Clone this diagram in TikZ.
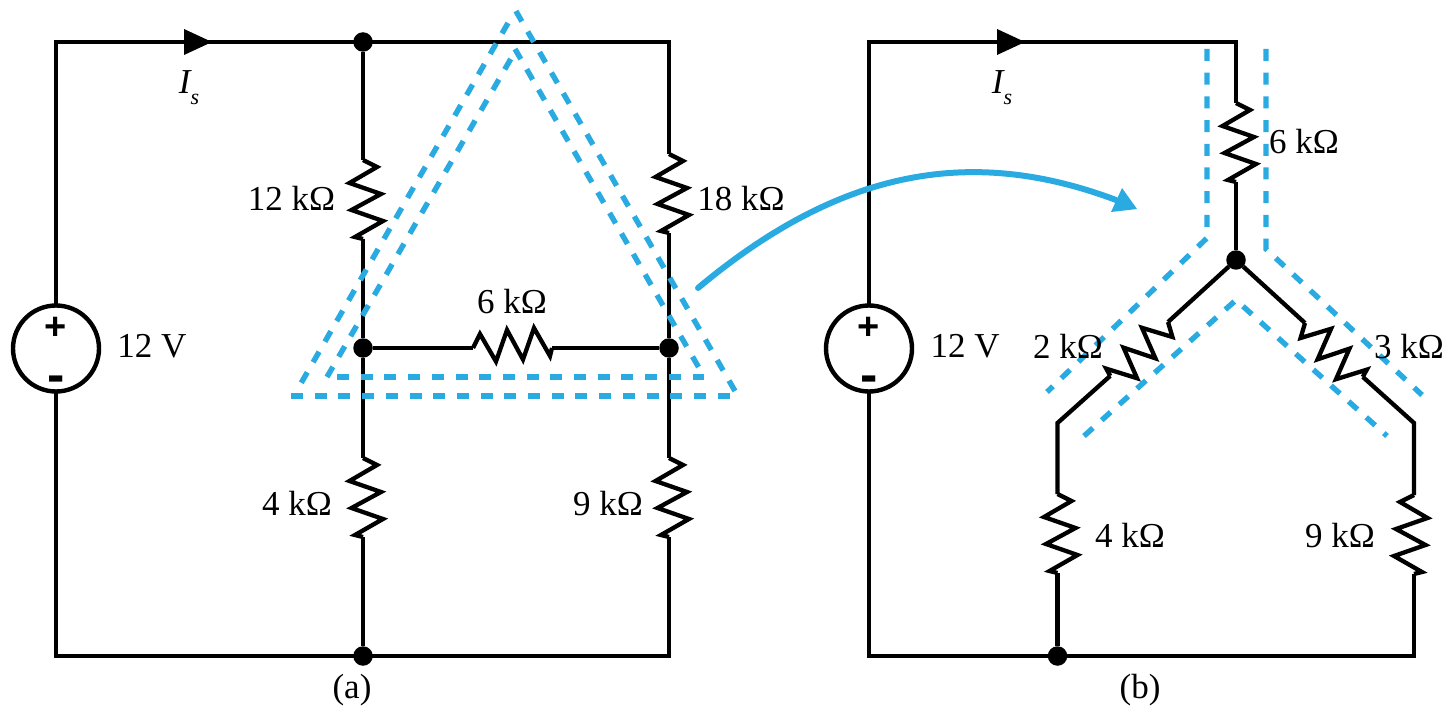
\documentclass[tikz,border=0pt]{standalone}
\usepackage{fontspec}
\setmainfont{Liberation Serif}
\newfontfamily\signfont{Liberation Sans}[Scale=1.0]
\definecolor{cblue}{HTML}{29ABE2}
\tikzset{
  wire/.style={draw=black,line width=4.3pt,line join=miter,line cap=butt},
  dotnode/.style={circle,fill=black,draw=none,minimum size=19.5pt,inner sep=0pt,outer sep=0pt},
  srcnode/.style={circle,draw=black,line width=4.4pt,minimum size=86pt,inner sep=0pt,outer sep=0pt},
  lab/.style={font=\fontsize{35}{38}\selectfont,anchor=base,inner sep=0pt,text=black},
  signlab/.style={font=\signfont\bfseries\fontsize{38}{38}\selectfont,anchor=center,inner sep=0pt,text=black},
  minuslab/.style={font=\signfont\bfseries\fontsize{52}{52}\selectfont,anchor=center,inner sep=0pt,text=black},
  dashblue/.style={draw=cblue,line width=5.4pt,dash pattern=on 12pt off 11.7pt,line cap=butt,line join=miter},
  res/.pic={
    \coordinate (-a) at (0,0);
    \coordinate (-b) at (0,79);
    \draw[wire,miter limit=6] (0,0) -- (14,7) -- (-13.5,23) -- (18,34) -- (-11.5,50) -- (20,61) -- (-8,77) -- (0,79);
  },
  flowtip/.pic={
    \fill[black] (-14,-13) -- (14,0) -- (-14,13) -- cycle;
  },
}
\newcommand{\Isub}{{\itshape I}\raisebox{-11pt}{\fontsize{22}{22}\selectfont\itshape s}}
\begin{document}
\begin{tikzpicture}[x=1pt,y=-1pt]
\useasboundingbox (0,0) rectangle (1453,711);
% part (a) corners
\coordinate (atl) at (56,42);
\coordinate (atr) at (669,42);
\coordinate (abl) at (56,656);
\coordinate (abr) at (669,656);
\node[srcnode] (srcA) at (56,348.5) {};
\node[dotnode] (atop) at (363,42) {};
\node[dotnode] (amidl) at (363,348) {};
\node[dotnode] (amidr) at (669,348) {};
\node[dotnode] (abot) at (363,656) {};
\pic (r12) at (363,160) {res};
\pic (r18) at (669,154) {res};
\pic (r4a) at (363,458) {res};
\pic (r9a) at (669,458) {res};
\pic[rotate=90] (r6a) at (473,348) {res};
\draw[wire] (srcA.north) -- (atl) -- (atr) -- (r18-a);
\draw[wire] (r18-b) -- (amidr) -- (r9a-a);
\draw[wire] (r9a-b) -- (abr) -- (abl) -- (srcA.south);
\draw[wire] (atop) -- (r12-a);
\draw[wire] (r12-b) -- (amidl) -- (r4a-a);
\draw[wire] (r4a-b) -- (abot);
\draw[wire] (amidl) -- (r6a-a);
\draw[wire] (r6a-b) -- (amidr);
\pic at (198,42) {flowtip};
% part (b)
\coordinate (btl) at (869,42);
\coordinate (btr) at (1236,42);
\coordinate (bbl) at (869,656);
\coordinate (bbr) at (1414,656);
\coordinate (bkl) at (1057.5,423);
\coordinate (bkr) at (1414,423);
\node[srcnode] (srcB) at (869,348.5) {};
\node[dotnode] (bjun) at (1236,260) {};
\node[dotnode] (bbot) at (1057.5,656) {};
\pic (r6b) at (1236,103) {res};
\pic[rotate=-47] (r2) at (1168,322) {res};
\pic[rotate=47,xscale=-1] (r3) at (1305,323) {res};
\pic (r4b) at (1057.5,494) {res};
\pic[xscale=-1] (r9b) at (1414,495) {res};
\draw[wire] (srcB.north) -- (btl) -- (btr) -- (r6b-a);
\draw[wire] (r6b-b) -- (bjun);
\draw[wire] (bjun) -- (r2-a);
\draw[wire] (r2-b) -- (bkl) -- (r4b-a);
\draw[wire] (r4b-b) -- (bbot);
\draw[wire] (bjun) -- (r3-a);
\draw[wire] (r3-b) -- (bkr) -- (r9b-a);
\draw[wire] (r9b-b) -- (bbr) -- (bbl) -- (srcB.south);
\pic at (1011,42) {flowtip};
% blue guides
\draw[dashblue] (291,396) -- (730,396);
\draw[dashblue] (735,391) -- (515,9.5);
\draw[dashblue] (508,23) -- (300,385);
\draw[dashblue] (337,377) -- (704,377);
\draw[dashblue] (698.5,367) -- (515,49);
\draw[dashblue] (510.7,59) -- (327,377);
\draw[dashblue] (1207,49) -- (1207,238) -- (1047,392);
\draw[dashblue] (1266,49) -- (1266,249) -- (1422,395);
\draw[dashblue] (1084,436) -- (1236,300) -- (1387,436);
\coordinate (cvs) at (698,288);
\coordinate (cve) at (1116,200);
\draw[draw=cblue,line width=6pt,line cap=round] (cvs) .. controls (839,170) and (970,145) .. (cve);
\fill[cblue] (1122,188) -- (1137,209) -- (1111,212) -- cycle;
% labels
\node[lab] (t12) at (291.5,211) {12 kΩ};
\node[lab] (t18) at (741,211) {18 kΩ};
\node[lab] (t6a) at (512,313) {6 kΩ};
\node[lab] (t4a) at (297,515) {4 kΩ};
\node[lab] (t9a) at (608,515) {9 kΩ};
\node[lab] (tva) at (152,357) {12 V};
\node[lab] (tia) at (189,94) {\Isub};
\node[lab] (tca) at (352,698) {(a)};
\node[lab] (t6b) at (1304,154) {6 kΩ};
\node[lab] (t2) at (1068,358) {2 kΩ};
\node[lab] (t3) at (1409,358) {3 kΩ};
\node[lab] (t4b) at (1130,547) {4 kΩ};
\node[lab] (t9b) at (1340,547) {9 kΩ};
\node[lab] (tvb) at (965,357) {12 V};
\node[lab] (tib) at (1002,94) {\Isub};
\node[lab] (tcb) at (1140,698) {(b)};
\node[signlab] (pa) at (56,328) {+};
\node[minuslab] (ma) at (56,384) {-};
\node[signlab] (pb) at (869,328) {+};
\node[minuslab] (mb) at (869,384) {-};
\end{tikzpicture}
\end{document}
